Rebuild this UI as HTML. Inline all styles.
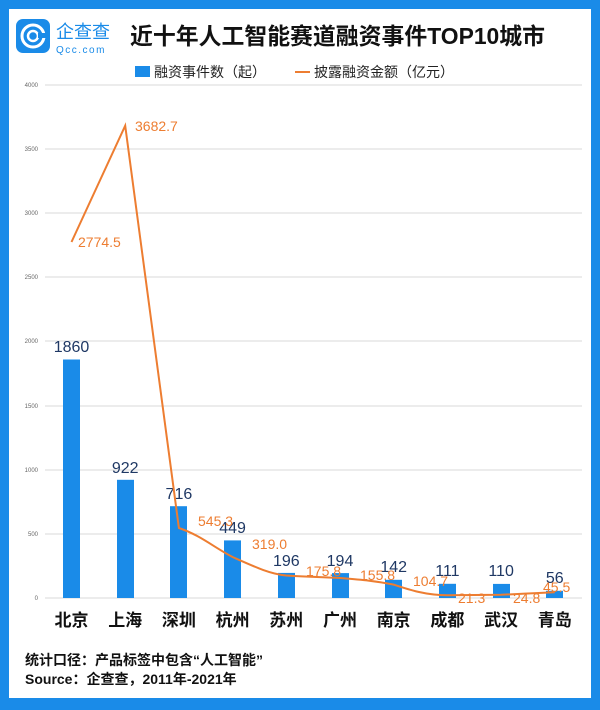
<!DOCTYPE html>
<html><head><meta charset="utf-8"><style>
html,body{margin:0;padding:0;}
body{width:600px;height:710px;background:#1a8be8;position:relative;overflow:hidden;font-family:"Liberation Sans","Noto Sans CJK SC",sans-serif;}
#w{position:absolute;left:9px;top:9px;width:582px;height:689px;background:#fff;}
</style></head><body>
<div id="w"></div>
<svg width="600" height="710" style="position:absolute;left:0;top:0" font-family="Liberation Sans, Noto Sans CJK SC, sans-serif">
<rect x="16" y="19" width="34" height="34" rx="7" fill="#1a8be8"/>
<circle cx="33" cy="36" r="11" fill="none" stroke="#fff" stroke-width="3"/>
<circle cx="33" cy="36" r="5" fill="none" stroke="#fff" stroke-width="2.5"/>
<rect x="38" y="33" width="8" height="5" fill="#1a8be8"/>
<text x="56" y="38" font-size="18" fill="#1a8be8">企查查</text>
<text x="56" y="53" font-size="10" fill="#1a8be8" letter-spacing="1.5">Qcc.com</text>
<text x="130" y="44" font-size="23" font-weight="bold" fill="#111" textLength="415" lengthAdjust="spacingAndGlyphs">近十年人工智能赛道融资事件TOP10城市</text>
<rect x="135" y="66" width="15" height="11" fill="#1a8be8"/>
<text x="154" y="77" font-size="14" fill="#222">融资事件数（起）</text>
<line x1="295" y1="72" x2="310" y2="72" stroke="#ed7d31" stroke-width="2"/>
<text x="314" y="77" font-size="14" fill="#222">披露融资金额（亿元）</text>
<g stroke="#d9d9d9" stroke-width="1">
<line x1="45" y1="85" x2="582" y2="85"/><line x1="45" y1="149" x2="582" y2="149"/>
<line x1="45" y1="213" x2="582" y2="213"/><line x1="45" y1="277" x2="582" y2="277"/>
<line x1="45" y1="341" x2="582" y2="341"/><line x1="45" y1="406" x2="582" y2="406"/>
<line x1="45" y1="470" x2="582" y2="470"/><line x1="45" y1="534" x2="582" y2="534"/>
<line x1="45" y1="598" x2="582" y2="598"/>
</g>
<g font-size="6" fill="#666" text-anchor="end">
<text x="38" y="87">4000</text><text x="38" y="151">3500</text><text x="38" y="215">3000</text>
<text x="38" y="279">2500</text><text x="38" y="343">2000</text><text x="38" y="408">1500</text>
<text x="38" y="472">1000</text><text x="38" y="536">500</text><text x="38" y="600">0</text>
</g>
<g fill="#1a8be8">
<rect x="63" y="359.5" width="17" height="238.5"/>
<rect x="117" y="479.8" width="17" height="118.2"/>
<rect x="170" y="506.2" width="17" height="91.8"/>
<rect x="224" y="540.4" width="17" height="57.6"/>
<rect x="278" y="572.9" width="17" height="25.1"/>
<rect x="332" y="573.1" width="17" height="24.9"/>
<rect x="385" y="579.8" width="17" height="18.2"/>
<rect x="439" y="583.8" width="17" height="14.2"/>
<rect x="493" y="583.9" width="17" height="14.1"/>
<rect x="546" y="590.8" width="17" height="7.2"/>
</g>
<g font-size="16" fill="#1f3864" text-anchor="middle">
<text x="71.5" y="352">1860</text><text x="125.2" y="473">922</text><text x="178.9" y="499">716</text>
<text x="232.6" y="533">449</text><text x="286.3" y="566">196</text><text x="340" y="566">194</text>
<text x="393.7" y="572">142</text><text x="447.4" y="576">111</text><text x="501.1" y="576">110</text>
<text x="554.8" y="583">56</text>
</g>
<path d="M71.5,242 L125.2,125.7 L178.9,528 C200,535 215,548 232.6,557 C255,567 270,574 286.3,575.5 C310,577 320,577 340,578 C365,580 375,581 393.7,584.6 C410,590 425,595 447.4,595.3 L501.1,594.8 C520,594 535,593 554.8,592.2" fill="none" stroke="#ed7d31" stroke-width="2"/>
<g font-size="14" fill="#ed7d31">
<text x="78" y="247">2774.5</text><text x="135" y="131">3682.7</text><text x="198" y="526">545.3</text>
<text x="252" y="549">319.0</text><text x="306" y="576">175.8</text><text x="360" y="580">155.8</text>
<text x="413" y="586">104.7</text><text x="458" y="603">21.3</text><text x="513" y="603">24.8</text>
<text x="543" y="592">45.5</text>
</g>
<g font-size="17" font-weight="bold" fill="#111" text-anchor="middle">
<text x="71.5" y="626">北京</text><text x="125.2" y="626">上海</text><text x="178.9" y="626">深圳</text>
<text x="232.6" y="626">杭州</text><text x="286.3" y="626">苏州</text><text x="340" y="626">广州</text>
<text x="393.7" y="626">南京</text><text x="447.4" y="626">成都</text><text x="501.1" y="626">武汉</text>
<text x="554.8" y="626">青岛</text>
</g>
<text x="25" y="665" font-size="14" font-weight="bold" fill="#111">统计口径：产品标签中包含“人工智能”</text>
<text x="25" y="684" font-size="14" font-weight="bold" fill="#111">Source：企查查，2011年-2021年</text>
</svg>
</body></html>
